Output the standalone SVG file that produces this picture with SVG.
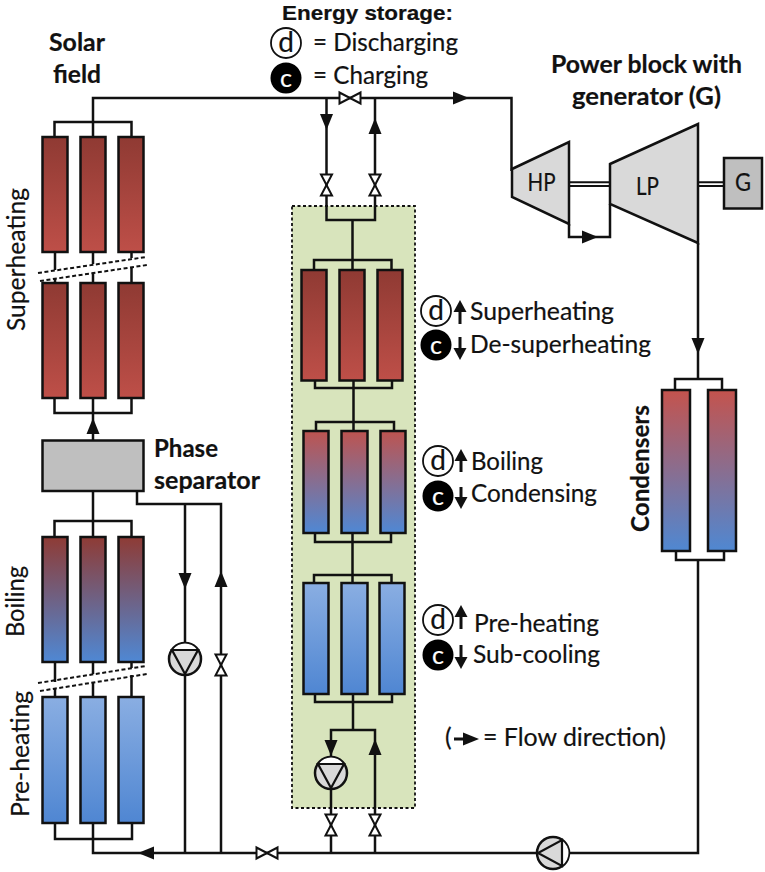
<svg xmlns="http://www.w3.org/2000/svg" width="765" height="872" viewBox="0 0 765 872">
<style>
text{font-family:"Lato","Open Sans","Liberation Sans",sans-serif;font-size:25px;fill:#111;stroke:#111;stroke-width:.2}
.b{font-weight:700}
.m{text-anchor:middle}
.w{fill:#fff;stroke:#fff}
.k{font-size:28px}
.e{font-family:"Liberation Sans",Arial,sans-serif;font-size:21px}
.c{fill:none;stroke:#111;stroke-width:2.5}
.t{fill:none;stroke:#111;stroke-width:2;stroke-dasharray:4 2.5}
.p{stroke:#111;stroke-width:2.5}
.v{fill:#fff;stroke:#111;stroke-width:2}
.h{fill:#111}
.sr{fill:url(#red)}
.sm{fill:url(#mix)}
.sh{fill:url(#hot)}
.sb{fill:url(#blue)}
.sc{fill:url(#cond)}
.t1{fill:#d9d9d9;stroke:#111;stroke-width:2.5}
</style>
<defs>
<linearGradient id="red" x1="0" y1="0" x2="0" y2="1"><stop offset="0" stop-color="#8f3a33"/><stop offset="1" stop-color="#be4f48"/></linearGradient>
<linearGradient id="mix" x1="0" y1="0" x2="0" y2="1"><stop offset="0" stop-color="#8e3b35"/><stop offset="1" stop-color="#4f88d4"/></linearGradient>
<linearGradient id="hot" x1="0" y1="0" x2="0" y2="1"><stop offset="0" stop-color="#bd5450"/><stop offset="1" stop-color="#4f88d4"/></linearGradient>
<linearGradient id="blue" x1="0" y1="0" x2="0" y2="1"><stop offset="0" stop-color="#8aaee2"/><stop offset="1" stop-color="#4f86d2"/></linearGradient>
<linearGradient id="cond" x1="0" y1="0" x2="0" y2="1"><stop offset="0" stop-color="#c4534d"/><stop offset="1" stop-color="#4f88d2"/></linearGradient>
<path id="ah" class="h" d="M0 0L-16 -6.500V6.500Z"/>
<path id="ah2" class="h" d="M0 0L-12 -6.500V6.500Z"/>
<path id="valve" class="v" d="M-5.500 -10.500H5.500L-5.500 10.500H5.500Z"/>
<g id="pump"><circle r="16" fill="#d9d9d9" stroke="#111" stroke-width="2.500"/><path d="M-12 -9.500A15 15 0 0 1 12 -9.500Z" fill="#fff"/><path d="M-13 -9H13L0 15Z" fill="#d9d9d9" stroke="#111" stroke-width="2.200"/></g>
</defs>
<g id="storage-box"><rect x="292" y="206" width="123" height="602" fill="#d8e4bc" stroke="#111" stroke-width="1.800" stroke-dasharray="3 2.500"/></g>
<g id="connectors">
<path class="c" d="M93 137V98H511.500V171"/>
<path class="c" d="M54.500 137V122H131.500V137"/>
<path class="c" d="M55 252V270M93 252V264M131.500 252V258M55 279V283M93 273V283M131.500 267V283"/>
<path class="t" d="M38 273L146 257M40 281L147 265"/>
<path class="c" d="M54.500 398V413H131.500V398M93 398V440"/>
<path class="c" d="M93 491V537M54.500 537V521H131.500V537"/>
<path class="c" d="M55 662V682M93 662V674M131.500 662V668M55 689V697M93 682V697M131.500 675V697"/>
<path class="t" d="M38 683L146 666M40 691L147 674"/>
<path class="c" d="M55 823V839H132V823M93 823V853H698V560M676 551V560H724V551"/>
<path class="c" d="M137 491V504H221V853M185 504V853"/>
<path class="c" d="M326.500 98V220H375V98M352.500 220V270M314 270V260H391.500V270"/>
<path class="c" d="M315 380V388H392V380M353.500 380V431M316 431V422H394V431"/>
<path class="c" d="M315 533V542H391V533M352.500 533V583M314 583V575H391.500V583"/>
<path class="c" d="M315 694V702H392V694M353 694V730M331 853V730H375V853"/>
<path class="c" d="M569 224V237H610V204"/>
<path class="c" d="M698 243V379M675 390V379H722V390"/>
<path fill="none" stroke="#111" stroke-width="2" d="M569 182.300H610M569 186H610M698 182.300H724M698 186H724"/>
<use href="#ah" transform="translate(469 98)"/>
<use href="#ah" transform="translate(326.500 130) rotate(90)"/>
<use href="#ah" transform="translate(375 118) rotate(-90)"/>
<use href="#ah" transform="translate(598 237)"/>
<use href="#ah" transform="translate(698 354) rotate(90)"/>
<use href="#ah" transform="translate(93 418) rotate(-90)"/>
<use href="#ah" transform="translate(185 589) rotate(90)"/>
<use href="#ah" transform="translate(221 571) rotate(-90)"/>
<use href="#ah" transform="translate(138 853) rotate(180)"/>
<use href="#ah" transform="translate(331 756) rotate(90)"/>
<use href="#ah" transform="translate(375 739) rotate(-90)"/>
</g>
<g id="collectors-superheating-upper"><rect class="p sr" x="42.500" y="137" width="25" height="115"/><rect class="p sr" x="80.500" y="137" width="25" height="115"/><rect class="p sr" x="118.500" y="137" width="25" height="115"/></g>
<g id="collectors-superheating-lower"><rect class="p sr" x="42.500" y="283" width="25" height="115"/><rect class="p sr" x="80.500" y="283" width="25" height="115"/><rect class="p sr" x="118.500" y="283" width="25" height="115"/></g>
<g id="phase-separator"><rect x="42.500" y="440.500" width="101" height="50.500" fill="#bfbfbf" stroke="#111" stroke-width="2.500"/></g>
<g id="collectors-boiling"><rect class="p sm" x="42.500" y="537" width="25" height="125"/><rect class="p sm" x="80.500" y="537" width="25" height="125"/><rect class="p sm" x="118.500" y="537" width="25" height="125"/></g>
<g id="collectors-preheating"><rect class="p sb" x="42.500" y="697" width="25" height="126"/><rect class="p sb" x="80.500" y="697" width="25" height="126"/><rect class="p sb" x="118.500" y="697" width="25" height="126"/></g>
<g id="storage-superheating"><rect class="p sr" x="301.500" y="270" width="25" height="110.500"/><rect class="p sr" x="339.500" y="270" width="25" height="110.500"/><rect class="p sr" x="377.500" y="270" width="25" height="110.500"/></g>
<g id="storage-boiling"><rect class="p sh" x="303.500" y="431" width="25" height="102"/><rect class="p sh" x="341.500" y="431" width="26" height="102"/><rect class="p sh" x="380.500" y="431" width="25" height="102"/></g>
<g id="storage-preheating"><rect class="p sb" x="303.500" y="583" width="25" height="111"/><rect class="p sb" x="341.500" y="583" width="26" height="111"/><rect class="p sb" x="379.500" y="583" width="25" height="111"/></g>
<g id="condensers"><rect class="p sc" x="662" y="390" width="28" height="161"/><rect class="p sc" x="708" y="390" width="28" height="161"/></g>
<g id="turbine-hp"><path class="t1" d="M512 169L569 142V224L512 197Z"/><text class="m" x="541.500" y="191" textLength="28" lengthAdjust="spacingAndGlyphs">HP</text></g>
<g id="turbine-lp"><path class="t1" d="M610 164L698 124V243L610 204Z"/><text class="m" x="647.500" y="195" textLength="23" lengthAdjust="spacingAndGlyphs">LP</text></g>
<g id="generator"><rect x="724" y="158" width="38" height="50.500" fill="#bfbfbf" stroke="#111" stroke-width="2.500"/><text class="m" x="743" y="191" textLength="16" lengthAdjust="spacingAndGlyphs">G</text></g>
<g id="valve-main"><use href="#valve" transform="translate(350 98) rotate(90)"/></g>
<g id="valve-store-a"><use href="#valve" transform="translate(326.500 185)"/></g>
<g id="valve-store-b"><use href="#valve" transform="translate(375 185)"/></g>
<g id="valve-separator"><use href="#valve" transform="translate(221 665)"/></g>
<g id="valve-store-c"><use href="#valve" transform="translate(331 825)"/></g>
<g id="valve-store-d"><use href="#valve" transform="translate(375 825)"/></g>
<g id="valve-bottom"><use href="#valve" transform="translate(267 853) rotate(90)"/></g>
<g id="pump-separator"><use href="#pump" transform="translate(185 659)"/></g>
<g id="pump-storage"><use href="#pump" transform="translate(331 773)"/></g>
<g id="pump-feed"><use href="#pump" transform="translate(553 853) rotate(90)"/></g>
<g id="labels">
<text class="b" x="49" y="51" textLength="56" lengthAdjust="spacingAndGlyphs">Solar</text>
<text class="b" x="53" y="83" textLength="48" lengthAdjust="spacingAndGlyphs">field</text>
<text class="b e" x="282" y="19.500" textLength="171" lengthAdjust="spacingAndGlyphs">Energy storage:</text>
<text x="313" y="51" textLength="145" lengthAdjust="spacingAndGlyphs">= Discharging</text>
<text x="313" y="84" textLength="115" lengthAdjust="spacingAndGlyphs">= Charging</text>
<text class="b" x="551" y="73" textLength="191" lengthAdjust="spacingAndGlyphs">Power block with</text>
<text class="b" x="572" y="105" textLength="149" lengthAdjust="spacingAndGlyphs">generator (G)</text>
<text class="b" x="154" y="457" textLength="64" lengthAdjust="spacingAndGlyphs">Phase</text>
<text class="b" x="154" y="489" textLength="106" lengthAdjust="spacingAndGlyphs">separator</text>
<text transform="translate(25 331) rotate(-90)" textLength="143" lengthAdjust="spacingAndGlyphs">Superheating</text>
<text transform="translate(24 637) rotate(-90)" textLength="71" lengthAdjust="spacingAndGlyphs">Boiling</text>
<text transform="translate(29 817) rotate(-90)" textLength="126" lengthAdjust="spacingAndGlyphs">Pre-heating</text>
<text class="b" transform="translate(649 532) rotate(-90)" textLength="127" lengthAdjust="spacingAndGlyphs">Condensers</text>
<text x="470" y="320" textLength="144" lengthAdjust="spacingAndGlyphs">Superheating</text>
<text x="470" y="353" textLength="181" lengthAdjust="spacingAndGlyphs">De-superheating</text>
<text x="471" y="470" textLength="72" lengthAdjust="spacingAndGlyphs">Boiling</text>
<text x="471" y="502" textLength="126" lengthAdjust="spacingAndGlyphs">Condensing</text>
<text x="474" y="632" textLength="125" lengthAdjust="spacingAndGlyphs">Pre-heating</text>
<text x="473" y="663" textLength="127" lengthAdjust="spacingAndGlyphs">Sub-cooling</text>
<text x="445" y="746">(</text>
<text x="483" y="746" textLength="183" lengthAdjust="spacingAndGlyphs">= Flow direction)</text>
</g>
<g id="legend-keys">
<g id="key-d-title"><circle cx="286" cy="43" r="15" fill="#fff" stroke="#111" stroke-width="1.800"/><text class="m k" x="286" y="52">d</text></g>
<g id="key-c-title"><circle cx="286" cy="78" r="15.500" fill="#000"/><text class="m w" x="286" y="87">c</text></g>
<g id="key-d-1"><circle cx="436" cy="311" r="15" fill="#fff" stroke="#111" stroke-width="1.800"/><text class="m k" x="436" y="320">d</text></g>
<g id="key-c-1"><circle cx="436" cy="345" r="15.500" fill="#000"/><text class="m w" x="436" y="354">c</text></g>
<g id="key-d-2"><circle cx="438" cy="461" r="15" fill="#fff" stroke="#111" stroke-width="1.800"/><text class="m k" x="438" y="470">d</text></g>
<g id="key-c-2"><circle cx="438" cy="496" r="15.500" fill="#000"/><text class="m w" x="438" y="505">c</text></g>
<g id="key-d-3"><circle cx="438" cy="620" r="15" fill="#fff" stroke="#111" stroke-width="1.800"/><text class="m k" x="438" y="629">d</text></g>
<g id="key-c-3"><circle cx="438" cy="655" r="15.500" fill="#000"/><text class="m w" x="438" y="664">c</text></g>
<path class="c" style="stroke-width:3" d="M460 310V324M460 337V350M461 459V472M461 487V500M461 617V629M461 645V659M454 739H466"/>
<use href="#ah2" transform="translate(460 300) rotate(-90)"/>
<use href="#ah2" transform="translate(460 360) rotate(90)"/>
<use href="#ah2" transform="translate(461 449) rotate(-90)"/>
<use href="#ah2" transform="translate(461 509) rotate(90)"/>
<use href="#ah2" transform="translate(461 605) rotate(-90)"/>
<use href="#ah2" transform="translate(461 669) rotate(90)"/>
<use href="#ah" transform="translate(479 739)"/>
</g>
</svg>
